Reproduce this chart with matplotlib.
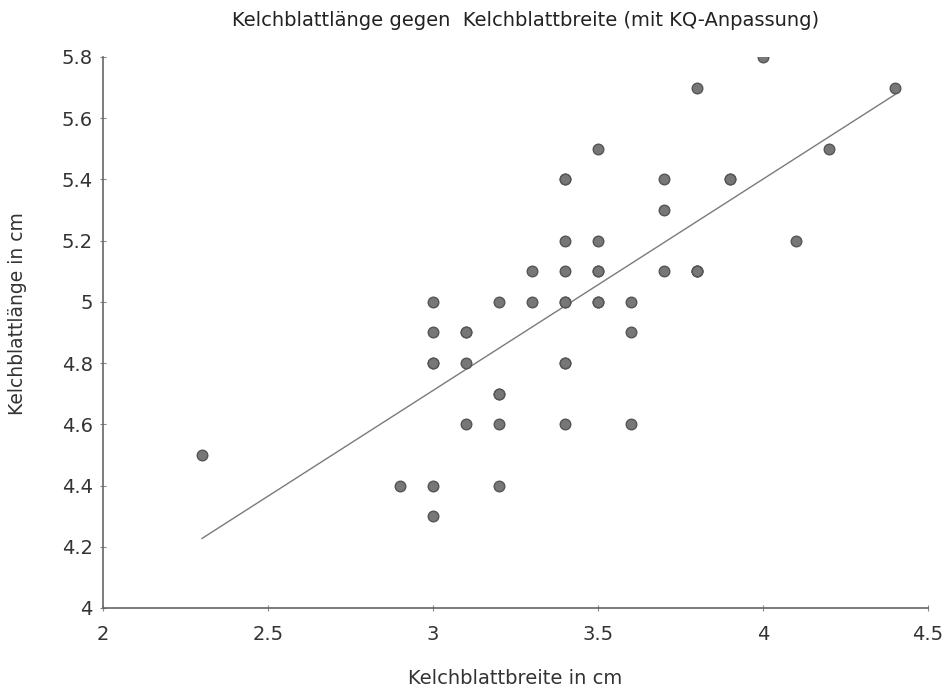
import numpy as np
import matplotlib.pyplot as plt

# Kelchblattbreite (x) und Kelchblattlaenge (y), in cm
breite = [3.5, 3.0, 3.2, 3.1, 3.6, 3.9, 3.4, 3.4, 2.9, 3.1,
          3.7, 3.4, 3.0, 3.0, 4.0, 4.4, 3.9, 3.5, 3.8, 3.8,
          3.4, 3.7, 3.6, 3.3, 3.4, 3.0, 3.4, 3.5, 3.4, 3.2,
          3.1, 3.4, 4.1, 4.2, 3.1, 3.2, 3.5, 3.6, 3.0, 3.4,
          3.5, 2.3, 3.2, 3.5, 3.8, 3.0, 3.8, 3.2, 3.7, 3.3]
laenge = [5.1, 4.9, 4.7, 4.6, 5.0, 5.4, 4.6, 5.0, 4.4, 4.9,
          5.4, 4.8, 4.8, 4.3, 5.8, 5.7, 5.4, 5.1, 5.7, 5.1,
          5.4, 5.1, 4.6, 5.1, 4.8, 5.0, 5.0, 5.2, 5.2, 4.7,
          4.8, 5.4, 5.2, 5.5, 4.9, 5.0, 5.5, 4.9, 4.4, 5.1,
          5.0, 4.5, 4.4, 5.0, 5.1, 4.8, 5.1, 4.6, 5.3, 5.0]
xticks = [2, 2.5, 3, 3.5, 4, 4.5]
xticklabels = ['2', '2.5', '3', '3.5', '4', '4.5']
yticks = [4, 4.2, 4.4, 4.6, 4.8, 5, 5.2, 5.4, 5.6, 5.8]
yticklabels = ['4', '4.2', '4.4', '4.6', '4.8', '5', '5.2', '5.4', '5.6', '5.8']

x = np.array(breite)
y = np.array(laenge)

# KQ-Anpassung (kleinste Quadrate)
m, b = np.polyfit(x, y, 1)
xl = np.array([x.min(), x.max()])

plt.rcParams.update({
    'font.family': 'DejaVu Sans',
    'axes.spines.top': False,
    'axes.spines.right': False,
})

fig = plt.figure(figsize=(9.51, 6.88), dpi=100)
ax = fig.add_axes([0.1083, 0.1163, 0.8675, 0.8009])

ax.plot(xl, m * xl + b, color='#7a7a7a', linewidth=1.0, zorder=2)
ax.scatter(x, y, s=58, color='#777777', edgecolors='#555555', linewidths=1.0, zorder=3)

ax.set_xlim(2, 4.5)
ax.set_ylim(4, 5.8)
ax.set_xticks(xticks)
ax.set_xticklabels(xticklabels)
ax.set_yticks(yticks)
ax.set_yticklabels(yticklabels)

for s in ['left', 'bottom']:
    ax.spines[s].set_color('#666666')
    ax.spines[s].set_linewidth(1.2)
ax.tick_params(axis='both', direction='inout', length=5, width=0.8, color='#888888',
               labelsize=14, labelcolor='#333333')
ax.tick_params(axis='x', pad=10)
ax.tick_params(axis='y', pad=5)

fig.text(526 / 951, 1 - 20 / 688,
         'Kelchblattlänge gegen  Kelchblattbreite (mit KQ-Anpassung)',
         fontsize=14, color='#222222', ha='center', va='center')
ax.set_xlabel('Kelchblattbreite in cm', fontsize=14, color='#333333')
ax.set_ylabel('Kelchblattlänge in cm', fontsize=13.5, color='#333333')
ax.xaxis.set_label_coords(0.5, -0.11)
ax.yaxis.set_label_coords(-0.092, 0.535)

plt.savefig('out.png', dpi=100)
